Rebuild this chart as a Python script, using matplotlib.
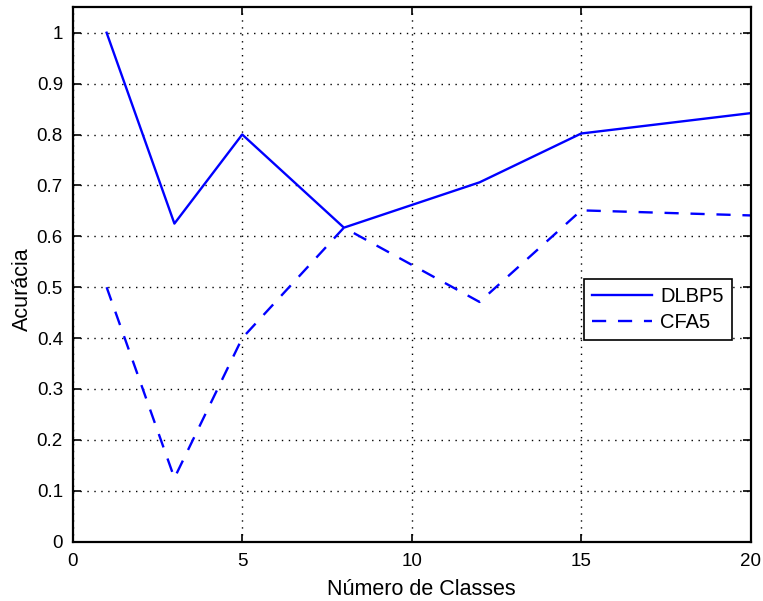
import matplotlib
matplotlib.use("Agg")
import matplotlib.pyplot as plt

# Accuracy versus number of classes
classes = [1, 3, 5, 8, 12, 15, 20]
dlbp5 = [1.0, 0.625, 0.8, 0.617, 0.706, 0.802, 0.842]
cfa5 = [0.5, 0.125, 0.4, 0.617, 0.471, 0.651, 0.641]
xticks = [0, 5, 10, 15, 20]
yticks = [0, 0.1, 0.2, 0.3, 0.4, 0.5, 0.6, 0.7, 0.8, 0.9, 1]

plt.rcParams['font.family'] = ['Liberation Sans', 'DejaVu Sans']

fig = plt.figure(figsize=(7.63, 6.01), dpi=100)
ax = fig.add_axes([0.0953, 0.0987, 0.8886, 0.8892])

ax.plot(classes, dlbp5, color=(0, 0, 1), lw=1.7, label='DLBP5')
ax.plot(classes, cfa5, color=(0, 0, 1), lw=1.7, ls=(0, (6, 5)), label='CFA5')

ax.set_xlim(0, 20)
ax.set_ylim(0, 1.05)
ax.set_xticks(xticks)
ax.set_yticks(yticks)
ax.set_yticklabels([('%g' % v) for v in yticks])
ax.tick_params(direction='in', top=True, right=True, labelsize=13.5, length=6, width=1.2)
ax.tick_params(axis='x', pad=8)
ax.tick_params(axis='y', pad=7)
ax.grid(True, color='black', ls=(0, (1, 4)), lw=1.0)
for s in ax.spines.values():
    s.set_linewidth(1.6)

ax.set_xlabel('Número de Classes', fontsize=15.5, labelpad=6.5)
ax.xaxis.label.set_x(0.514)
ax.set_ylabel('Acurácia', fontsize=15.5)
ax.yaxis.set_label_coords(-0.059, 0.473)

leg = ax.legend(loc='lower left', bbox_to_anchor=(0.754, 0.377), borderaxespad=0,
                fontsize=14.5, handlelength=3.0, handletextpad=0.4,
                labelspacing=0.35, fancybox=False, framealpha=1,
                edgecolor='black')
leg.get_frame().set_linewidth(1.2)

fig.savefig('out.png', dpi=100)
